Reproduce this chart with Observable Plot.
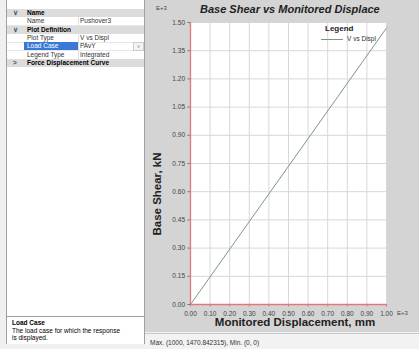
<!DOCTYPE html>
<html><head><meta charset="utf-8">
<script src="https://cdn.jsdelivr.net/npm/d3@7"></script>
<script src="https://cdn.jsdelivr.net/npm/@observablehq/plot@0.6"></script>
<style>
body{margin:0;width:419px;height:349px;overflow:hidden;background:#f0f0f0;font-family:"Liberation Sans",Arial,sans-serif;position:relative}
.abs{position:absolute;white-space:nowrap}
#panel{position:absolute;left:6px;top:0;width:137px;height:343px;background:#fff;border-left:1px solid #a0a0a0;border-right:1px solid #a0a0a0;border-bottom:1px solid #a0a0a0}
.row{position:absolute;left:0;width:137px;height:8px;font-size:6.5px;line-height:8px}
.hdr{background:#dcdcdc;font-weight:bold}
#chart{position:absolute;left:145px;top:0}
</style></head><body>
<div id="panel"></div>
<div id="chart"></div>
<script>
// property grid
const gridRows = [
  {type:"hdr", label:"Name", chevron:"∨"},
  {type:"row", label:"Name", value:"Pushover3"},
  {type:"hdr", label:"Plot Definition", chevron:"∨"},
  {type:"row", label:"Plot Type", value:"V vs Displ"},
  {type:"sel", label:"Load Case", value:"PAvY"},
  {type:"row", label:"Legend Type", value:"Integrated"},
  {type:"hdr", label:"Force Displacement Curve", chevron:">"}
];
const descTitle = "Load Case";
const descText = ["The load case for which the response", "is displayed."];
const statusText = "Max. (1000, 1470.842315),  Min. (0, 0)";

// chart data
const displacement = [0, 1000];
const baseShear = [0, 1470.842315];
const xTicks = [0,100,200,300,400,500,600,700,800,900,1000];
const yTicks = [0,150,300,450,600,750,900,1050,1200,1350,1500];
const seriesName = "V vs Displ";
const title = "Base Shear vs Monitored Displace";
const xLabel = "Monitored Displacement, mm";
const yLabel = "Base Shear, kN";

const panel = document.getElementById("panel");
gridRows.forEach((r,i)=>{
  const d = document.createElement("div");
  d.className = "row" + (r.type==="hdr" ? " hdr" : "");
  d.style.top = (9 + i*8.3) + "px";
  if (r.type==="hdr") {
    d.innerHTML = `<span class="abs" style="left:6px;color:#555">${r.chevron}</span><span class="abs" style="left:20px">${r.label}</span>`;
  } else {
    d.style.borderBottom = "1px solid #e6e6e6";
    const sel = r.type==="sel";
    d.innerHTML = `<span class="abs" style="left:17px;width:51px;height:8px;${sel?"background:#3a78d8;color:#fff;":"color:#333;"}padding-left:3px">${r.label}</span>` +
      `<span class="abs" style="left:71px;top:0;height:8px;border-left:1px solid #e0e0e0"></span>` +
      `<span class="abs" style="left:73px;color:#333">${r.value}</span>` +
      (sel ? `<span class="abs" style="left:126px;top:0;width:9px;height:7px;border:1px solid #ccc;background:#f4f4f4;font-size:5px;line-height:7px;text-align:center;color:#888">v</span>` : "");
  }
  panel.appendChild(d);
});
const desc = document.createElement("div");
desc.className = "abs";
desc.style.cssText = "left:0;top:316px;width:137px;height:27px;border-top:1px solid #a0a0a0;background:#fff;font-size:6.5px;line-height:7.5px;white-space:normal";
desc.innerHTML = `<div style="padding:2px 0 0 5px"><b>${descTitle}</b><br>${descText.join("<br>")}</div>`;
panel.appendChild(desc);

const red = "#e07878";
const chart = Plot.plot({
  width: 274, height: 332,
  marginLeft: 45, marginRight: 33, marginTop: 22, marginBottom: 28,
  style: {background: "#d4d4d4", fontSize: "6.5px", fontFamily: "Liberation Sans, Arial, sans-serif", color: "#444"},
  x: {domain: [0, 1000], label: null},
  y: {domain: [0, 1500], label: null},
  marks: [
    Plot.frame({fill: "#fff", stroke: "none"}),
    Plot.gridX(xTicks, {stroke: "#d8d8d8", strokeOpacity: 1}),
    Plot.gridY(yTicks, {stroke: "#d8d8d8", strokeOpacity: 1}),
    Plot.axisX({ticks: xTicks, tickSize: 2.5, tickPadding: 4, stroke: red, tickFormat: d => (d/1000).toFixed(2)}),
    Plot.axisY({ticks: yTicks, tickSize: 2.5, tickPadding: 3, stroke: "#777", tickFormat: d => (d/1000).toFixed(2)}),
    Plot.ruleX([0], {stroke: red, strokeWidth: 1.3}),
    Plot.ruleY([0], {stroke: red, strokeWidth: 1.3}),
    Plot.line(displacement.map((x,i)=>({x, y: baseShear[i]})), {x: "x", y: "y", stroke: "#7a9a7a", strokeWidth: 1})
  ]
});
document.getElementById("chart").appendChild(chart);

function addText(txt, css){
  const d = document.createElement("div");
  d.className = "abs"; d.textContent = txt; d.style.cssText += css;
  document.body.appendChild(d);
}
addText(title, "left:200px;top:3px;font-size:11px;font-weight:bold;font-style:italic;color:#222;width:186px;overflow:hidden");
addText("E+3", "left:156px;top:5px;font-size:6px;color:#444");
addText("E+3", "left:397px;top:310px;font-size:6px;color:#444");
addText(xLabel, "left:210px;top:316px;font-size:11.5px;font-weight:bold;color:#222;width:170px;text-align:center");
addText(yLabel, "left:157px;top:194px;font-size:11.5px;font-weight:bold;color:#222;transform:translate(-50%,-50%) rotate(-90deg);transform-origin:center");
// legend
addText("Legend", "left:325px;top:24px;font-size:8px;font-weight:bold;color:#222");
addText("", "left:321px;top:39px;width:22px;height:0;border-top:1px solid #7a9a7a");
addText(seriesName, "left:347px;top:35px;font-size:6.5px;color:#333");
// status bar
addText("", "left:145px;top:333px;width:274px;height:16px;background:#f2f2f2;border-top:1px solid #c8c8c8");
addText(statusText, "left:150px;top:339px;font-size:6.5px;color:#333");
</script>
</body></html>
